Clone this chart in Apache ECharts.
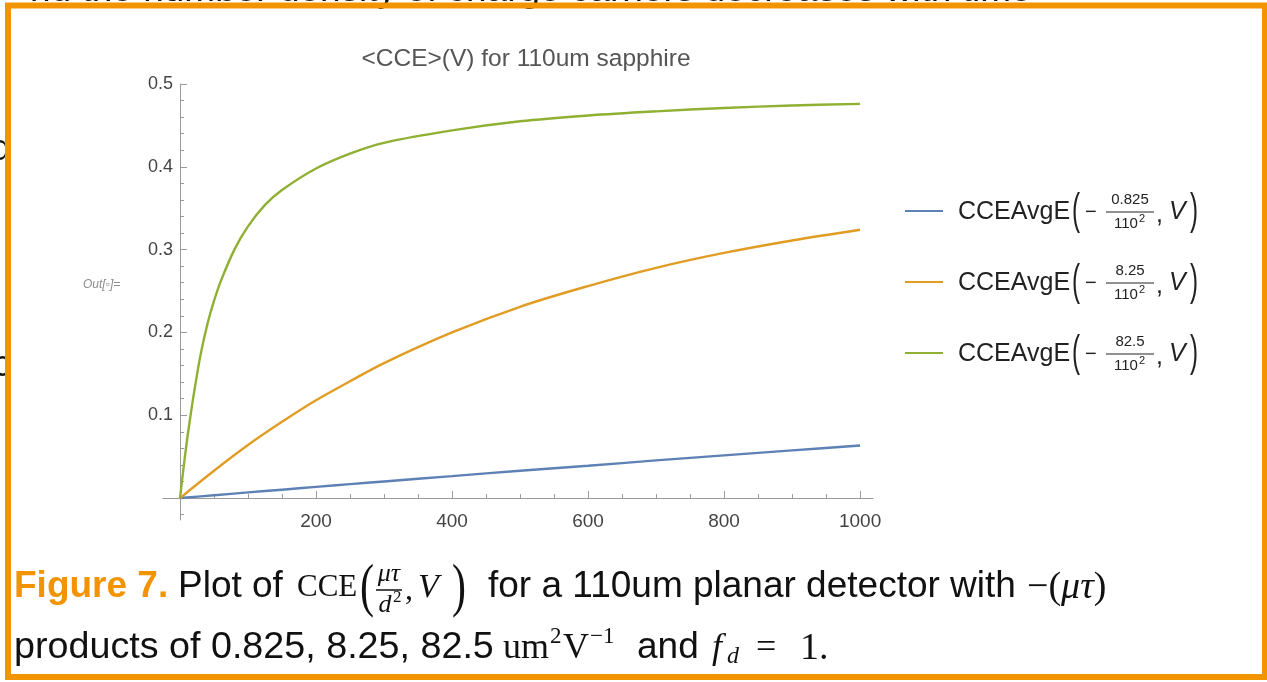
<!DOCTYPE html>
<html><head><meta charset="utf-8">
<script src="https://cdn.jsdelivr.net/npm/echarts@6/dist/echarts.min.js"></script>
<style>html,body{margin:0;padding:0;background:#fff}#c{width:1267px;height:682px}</style>
</head><body><div id="c"></div>
<script>
// ---- data ----
const voltsGreen = [0,5,10,15,20,30,40,50,60,80,100,125,150,200,250,300,400,500,600,700,800,900,1000];
const cceGreen   = [0,0.035,0.068,0.097,0.124,0.172,0.209,0.238,0.262,0.300,0.328,0.354,0.372,0.398,0.416,0.429,0.444,0.455,0.462,0.467,0.471,0.474,0.476];
const voltsOther = [0,50,100,150,200,250,300,400,500,600,700,800,900,1000];
const cceOrange  = [0,0.033,0.064,0.092,0.118,0.141,0.163,0.200,0.231,0.256,0.278,0.296,0.311,0.324];
const cceBlue    = [0,0.0034,0.0068,0.0101,0.0135,0.0168,0.020,0.0265,0.033,0.039,0.0455,0.0516,0.0576,0.0635];
const legendNumerators = ['0.825','8.25','82.5'];
const seriesColors = ['#5E81B5','#E19C24','#8FB032'];
const xTickLabels = [200,400,600,800,1000];
const xMinorTicks = [50,100,150,250,300,350,450,500,550,650,700,750,850,900,950];
const yTickLabels = [0.1,0.2,0.3,0.4,0.5];
const yMinorTicks = [-0.02,0.02,0.04,0.06,0.08,0.12,0.14,0.16,0.18,0.22,0.24,0.26,0.28,0.32,0.34,0.36,0.38,0.42,0.44,0.46,0.48];
const chartTitle = '<CCE>(V) for 110um sapphire';

const SANS = '"Liberation Sans", Arial, sans-serif';
const SERIF = '"Liberation Serif", "DejaVu Serif", serif';
const ORANGE = '#F29400';
const AX = '#9a9a9a';

const chart = echarts.init(document.getElementById('c'), null, {renderer:'canvas'});

const xBase = {type:'value', min:-25, max:1019, gridIndex:0, splitLine:{show:false}};
const yBase = {type:'value', min:-0.0265, max:0.5, gridIndex:0, splitLine:{show:false}};

function txt(x, y, text, style, extra) {
  return Object.assign({type:'text', x:x, y:y, silent:true,
    style:Object.assign({text:text, fill:'#111', font:'37px '+SANS, verticalAlign:'middle', align:'left'}, style)}, extra||{});
}

const graphics = [];
const seriesData = [
  {name:'blue', x:voltsOther, y:cceBlue},
  {name:'orange', x:voltsOther, y:cceOrange},
  {name:'green', x:voltsGreen, y:cceGreen}
];
// legend
legendNumerators.forEach((num, i) => {
  const y0 = 211 + i*71;
  graphics.push({type:'line', silent:true, shape:{x1:905,y1:y0,x2:943,y2:y0}, style:{stroke:seriesColors[i], lineWidth:2}});
  graphics.push(txt(958, y0+1, 'CCEAvgE', {font:'25px '+SANS, fill:'#222'}));
  graphics.push(txt(1072, y0+1, '(', {font:'44px '+SANS, fill:'#222'}, {scaleX:0.55}));
  graphics.push(txt(1085, y0+1, '\u2212', {font:'20px '+SANS, fill:'#222'}));
  graphics.push(txt(1130, y0-11, num, {font:'15px '+SANS, fill:'#222', align:'center'}));
  graphics.push({type:'line', silent:true, shape:{x1:1106,y1:y0+1,x2:1154,y2:y0+1}, style:{stroke:'#222', lineWidth:1}});
  graphics.push(txt(1126, y0+13, '110', {font:'15px '+SANS, fill:'#222', align:'center'}));
  graphics.push(txt(1139, y0+8, '2', {font:'11px '+SANS, fill:'#222'}));
  graphics.push(txt(1156, y0+4, ',', {font:'25px '+SANS, fill:'#222'}));
  graphics.push(txt(1169, y0+1, 'V', {font:'italic 25px '+SANS, fill:'#222'}));
  graphics.push(txt(1190, y0+1, ')', {font:'44px '+SANS, fill:'#222'}, {scaleX:0.55}));
});
// Out[ ]= label
graphics.push(txt(83, 285, 'Out[\u25AB]=', {font:'italic 12px '+SANS, fill:'#8a8a8a'}));
// caption line 1
const L1 = 587, L2 = 648;
graphics.push(txt(14, L1, 'Figure 7.', {font:'bold 37px '+SANS, fill:ORANGE}));
graphics.push(txt(178, L1, 'Plot of', {}));
graphics.push(txt(297, L1+1, 'CCE', {font:'31px '+SERIF}));
graphics.push(txt(360, L1+2, '(', {font:'60px '+SERIF}, {scaleX:0.7}));
graphics.push(txt(389, L1-13, '\u03BC\u03C4', {font:'italic 26px '+SERIF, align:'center'}));
graphics.push({type:'line', silent:true, shape:{x1:376,y1:L1+3,x2:402,y2:L1+3}, style:{stroke:'#111', lineWidth:1.5}});
graphics.push(txt(385, L1+18, 'd', {font:'italic 26px '+SERIF, align:'center'}));
graphics.push(txt(393, L1+11, '2', {font:'17px '+SERIF}));
graphics.push(txt(405, L1+4, ',', {font:'32px '+SERIF}));
graphics.push(txt(418, L1+1, 'V', {font:'italic 34px '+SERIF}));
graphics.push(txt(452, L1+2, ')', {font:'60px '+SERIF}, {scaleX:0.7}));
graphics.push(txt(488, L1, 'for a 110um planar detector with', {}));
graphics.push({type:'text', x:1027, y:L1+1, silent:true, style:{text:'{n|\u2212(}{i|\u03BC\u03C4}{n|)}', verticalAlign:'middle', align:'left',
  rich:{n:{font:'38px '+SERIF, fill:'#111'}, i:{font:'italic 38px '+SERIF, fill:'#111'}}}});
// caption line 2
graphics.push(txt(14, L2, 'products of 0.825, 8.25, 82.5', {font:'37.7px '+SANS}));
graphics.push(txt(503, L2+1, 'um', {font:'36px '+SERIF}));
graphics.push(txt(550, L2-11, '2', {font:'23px '+SERIF}));
graphics.push(txt(563, L2+1, 'V', {font:'36px '+SERIF}));
graphics.push(txt(590, L2-11, '\u22121', {font:'23px '+SERIF}));
graphics.push(txt(637, L2, 'and', {}));
graphics.push(txt(712, L2+1, 'f', {font:'italic 36px '+SERIF}));
graphics.push(txt(727, L2+9, 'd', {font:'italic 24px '+SERIF}));
graphics.push(txt(756, L2+1, '=', {font:'36px '+SERIF}));
graphics.push(txt(800, L2+1, '1.', {font:'38px '+SERIF}));
// fragments of surrounding document text
graphics.push(txt(30, -9, 'nd the number density of charge carriers decreases with time', {}));
graphics.push(txt(11, 150, 'd', {align:'right'}));
graphics.push(txt(11, 366, 'c', {align:'right'}));
// orange frame
graphics.push({type:'rect', silent:true, shape:{x:8, y:5.5, width:1257, height:671.5}, style:{fill:null, stroke:ORANGE, lineWidth:6}, z:100});

const option = {
  backgroundColor:'#fff',
  animation:false,
  title:{text:chartTitle, left:521, top:42, textAlign:'center',
         textStyle:{fontFamily:SANS, fontSize:24.5, fontWeight:'normal', color:'#555'}},
  grid:{left:163, top:84, width:710, height:436, containLabel:false},
  xAxis:[
    Object.assign({}, xBase, {position:'bottom',
      axisLine:{show:true, onZero:true, lineStyle:{color:AX, width:1}},
      axisTick:{show:true, inside:true, length:7, customValues:xTickLabels, lineStyle:{color:AX}},
      axisLabel:{show:true, customValues:xTickLabels, margin:-8, color:'#444', fontSize:19, fontFamily:SANS,
                 formatter:v => String(v)}}),
    Object.assign({}, xBase, {position:'top',
      axisLine:{show:false, onZero:true},
      axisTick:{show:true, inside:false, length:4, customValues:xMinorTicks, lineStyle:{color:AX}},
      axisLabel:{show:false}})
  ],
  yAxis:[
    Object.assign({}, yBase, {position:'left',
      axisLine:{show:true, onZero:true, lineStyle:{color:AX, width:1}},
      axisTick:{show:true, inside:true, length:7, customValues:yTickLabels, lineStyle:{color:AX}},
      axisLabel:{show:true, customValues:yTickLabels, margin:-10, color:'#444', fontSize:18, fontFamily:SANS,
                 formatter:v => v.toFixed(1)}}),
    Object.assign({}, yBase, {position:'right',
      axisLine:{show:false, onZero:true},
      axisTick:{show:true, inside:false, length:4, customValues:yMinorTicks, lineStyle:{color:AX}},
      axisLabel:{show:false}})
  ],
  series: seriesData.map((s, i) => ({
    name:s.name, type:'line', xAxisIndex:0, yAxisIndex:0,
    data:s.x.map((v, k) => [v, s.y[k]]),
    smooth:0.35, showSymbol:false, silent:true,
    lineStyle:{color:seriesColors[i], width:2.4}, itemStyle:{color:seriesColors[i]}
  })),
  graphic:graphics
};
chart.setOption(option);
</script></body></html>
